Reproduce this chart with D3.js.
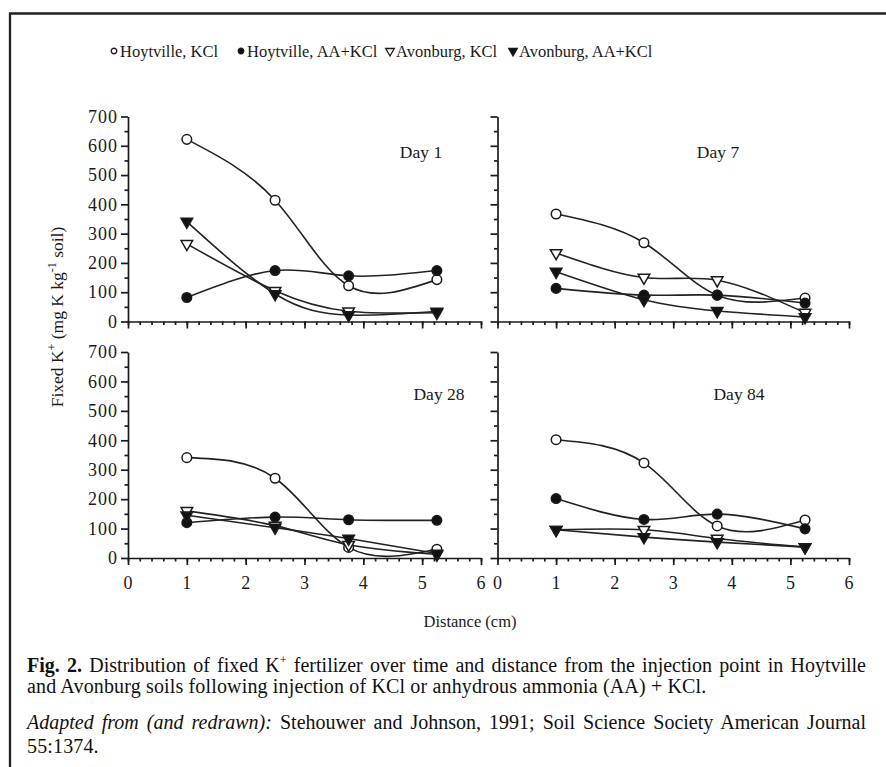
<!DOCTYPE html>
<head>
<meta charset="utf-8">
<title>Fixed K+ distribution</title>
<script src="https://d3js.org/d3.v7.min.js"></script>
<style>
    body { margin: 0; background: #fff; }
    svg { position: absolute; left: 0; top: 0; }
    text { font-family: "Liberation Serif", "Times New Roman", serif; fill: #1a1a1a; }
    .axis path, .axis line { stroke: #1a1a1a; stroke-width: 1.7px; }
    .axis text { font-size: 18px; letter-spacing: 1px; }
    .curve { fill: none; stroke: #222; stroke-width: 1.6px; }
    .mark { stroke: #1a1a1a; stroke-width: 1.5px; }
    .cap {
        position: absolute; left: 27px; width: 839px; height: 22px;
        font-family: "Liberation Serif", "Times New Roman", serif;
        font-size: 20px; line-height: 22px; color: #111; white-space: nowrap;
    }
    .just { text-align: justify; text-align-last: justify; }
    .loose { letter-spacing: 0.15px; }
    sup { font-size: 12px; line-height: 0; }
</style>
</head>
<body>
<svg id="chart" width="886" height="767"></svg>
<div class="cap just" style="top:654px"><b>Fig. 2.</b> Distribution of fixed K<sup>+</sup> fertilizer over time and distance from the injection point in Hoytville</div>
<div class="cap loose" style="top:675px">and Avonburg soils following injection of KCl or anhydrous ammonia (AA) + KCl.</div>
<div class="cap just" style="top:711px"><i>Adapted from (and redrawn):</i> Stehouwer and Johnson, 1991; Soil Science Society American Journal</div>
<div class="cap loose" style="top:735px">55:1374.</div>

<script>
    // data (mg K per kg soil), one row per day
    var distance = [1, 2.5, 3.75, 5.25];
    var dayLabels = ["Day 1", "Day 7", "Day 28", "Day 84"];
    var seriesNames = ["Hoytville, KCl", "Hoytville, AA+KCl", "Avonburg, KCl", "Avonburg, AA+KCl"];
    var hoytKCl   = [[622, 414, 122, 143], [367, 269, 90, 80], [341, 271, 36, 30], [402, 323, 109, 129]];
    var hoytAAKCl = [[82, 174, 156, 174], [113, 90, 90, 63], [120, 139, 130, 128], [202, 131, 149, 99]];
    var avonKCl   = [[265, 105, 35, 30], [234, 150, 141, 30], [160, 110, 45, 12], [96, 96, 66, 37]];
    var avonAAKCl = [[341, 94, 22, 34], [170, 74, 36, 15], [145, 103, 66, 15], [96, 71, 54, 37]];
    var yTicks = [0, 100, 200, 300, 400, 500, 600, 700];
    var xTicks = [0, 1, 2, 3, 4, 5, 6];

    var series = [hoytKCl, hoytAAKCl, avonKCl, avonAAKCl];
    // marker styles: open circle, filled circle, open triangle, filled triangle
    var symbols = [
        {type: d3.symbolCircle, fill: "#fff"},
        {type: d3.symbolCircle, fill: "#111"},
        {type: d3.symbolTriangle, fill: "#fff"},
        {type: d3.symbolTriangle, fill: "#111"}
    ];

    var svg = d3.select("#chart");

    // frame around the figure
    svg.append("path")
        .attr("d", "M10,800V13.5H900")
        .attr("fill", "none")
        .attr("stroke", "#222")
        .attr("stroke-width", 2.3);

    var panels = [
        {x0: 128, x1: 481, y0: 321.5, y1: 116.5, yLab: true,  xLab: false, lx: 421, ly: 158},
        {x0: 497.5, x1: 849, y0: 321.5, y1: 116.5, yLab: false, xLab: false, lx: 718, ly: 158},
        {x0: 128, x1: 481, y0: 558, y1: 352, yLab: true,  xLab: true, lx: 439, ly: 400},
        {x0: 497.5, x1: 849, y0: 558, y1: 352, yLab: false, xLab: true, lx: 739, ly: 400}
    ];

    function markerPath(i, size) {
        return d3.symbol().type(symbols[i].type).size(size)();
    }

    panels.forEach(function (p, d) {
        var x = d3.scaleLinear().domain([0, 6]).range([p.x0, p.x1]);
        var y = d3.scaleLinear().domain([0, 700]).range([p.y0, p.y1]);
        var g = svg.append("g");

        // minor ticks
        g.append("g").attr("class", "axis")
            .attr("transform", "translate(" + p.x0 + ",0)")
            .call(d3.axisLeft(y).tickValues(d3.range(50, 700, 100)).tickSize(3.5).tickFormat(""))
            .select(".domain").remove();
        g.append("g").attr("class", "axis")
            .attr("transform", "translate(0," + p.y0 + ")")
            .call(d3.axisBottom(x).tickValues(d3.range(0, 6.01, 0.2)).tickSize(3.5).tickFormat(""))
            .select(".domain").remove();

        // major ticks + labels
        g.append("g").attr("class", "axis")
            .attr("transform", "translate(" + p.x0 + ",0)")
            .call(d3.axisLeft(y).tickValues(yTicks).tickSize(7).tickSizeOuter(0).tickPadding(3)
                .tickFormat(p.yLab ? d3.format("d") : function () { return ""; }));
        g.append("g").attr("class", "axis")
            .attr("transform", "translate(0," + p.y0 + ")")
            .call(d3.axisBottom(x).tickValues(xTicks).tickSize(7).tickSizeOuter(0).tickPadding(11)
                .tickFormat(p.xLab ? d3.format("d") : function () { return ""; }));

        g.append("text")
            .attr("x", p.lx).attr("y", p.ly)
            .attr("text-anchor", "middle")
            .style("font-size", "17.5px")
            .text(dayLabels[d]);

        var line = d3.line()
            .x(function (v, k) { return x(distance[k]); })
            .y(function (v) { return y(v); })
            .curve(d3.curveNatural);

        series.forEach(function (s) {
            g.append("path").attr("class", "curve").attr("d", line(s[d]));
        });

        series.forEach(function (s, i) {
            g.selectAll(null)
                .data(s[d])
                .enter().append("path")
                .attr("class", "mark")
                .attr("d", markerPath(i, i < 2 ? 72 : 58))
                .attr("fill", symbols[i].fill)
                .attr("transform", function (v, k) {
                    return "translate(" + x(distance[k]) + "," + y(v) + ")" + (i >= 2 ? " rotate(180)" : "");
                });
        });
    });

    // legend
    var legendX = [114, 241, 390, 513];
    var legend = svg.append("g");
    seriesNames.forEach(function (name, i) {
        legend.append("path")
            .attr("class", "mark")
            .attr("d", markerPath(i, i < 2 ? 24 : 32))
            .attr("fill", symbols[i].fill)
            .style("stroke-width", 1.3)
            .attr("transform", "translate(" + legendX[i] + ",51)" + (i >= 2 ? " rotate(180)" : ""));
        legend.append("text")
            .attr("x", legendX[i] + 6).attr("y", 56.5)
            .style("font-size", "16.5px")
            .text(name);
    });

    // axis titles
    var yTitle = svg.append("text")
        .attr("transform", "translate(63,317) rotate(-90)")
        .attr("text-anchor", "middle")
        .style("font-size", "17.5px");
    yTitle.append("tspan").text("Fixed K");
    yTitle.append("tspan").attr("dy", -7).style("font-size", "12px").text("+");
    yTitle.append("tspan").attr("dy", 7).text(" (mg K kg");
    yTitle.append("tspan").attr("dy", -7).style("font-size", "12px").text("-1");
    yTitle.append("tspan").attr("dy", 7).text(" soil)");

    svg.append("text")
        .attr("x", 470).attr("y", 627)
        .attr("text-anchor", "middle")
        .style("font-size", "16.5px")
        .text("Distance (cm)");
</script>
</body>
